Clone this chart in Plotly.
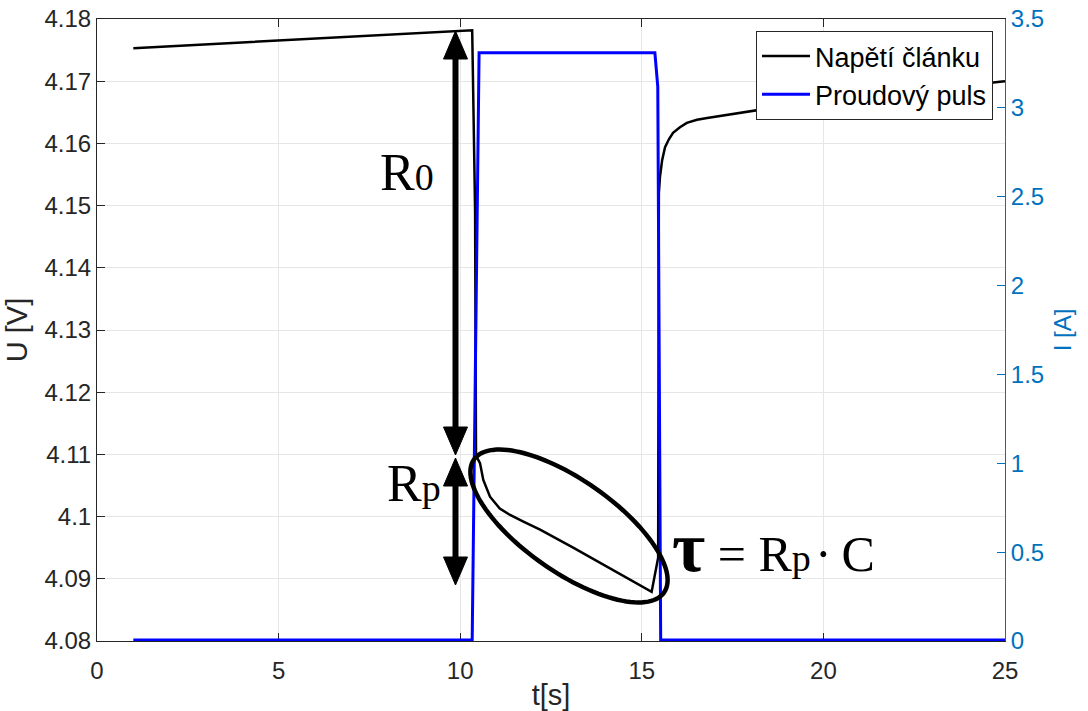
import math
import plotly.graph_objects as go

# Cell voltage response to a current pulse
t_voltage = [1.0, 5.0, 10.33, 10.41, 10.435, 10.49, 10.545, 10.636, 10.82,
             11.09, 11.36, 11.74, 12.20, 13.11, 14.03, 15.27, 15.45,
             15.47, 15.50, 15.56, 15.64, 15.75, 15.86, 16.05, 16.24, 16.52,
             16.80, 17.70, 18.80, 24.86, 25.0]
u_voltage = [4.1753, 4.1765, 4.1782, 4.1493, 4.1099, 4.1092, 4.1086, 4.1059,
             4.1032, 4.1013, 4.1003, 4.0992, 4.0979, 4.0950, 4.0920, 4.0879,
             4.0934, 4.1520, 4.1546, 4.1573, 4.1594, 4.1607, 4.1617, 4.1626,
             4.1633, 4.1638, 4.1641, 4.1649, 4.1659, 4.1699, 4.1700]

t_current = [1.0, 10.33, 10.52, 15.36, 15.44, 15.52, 25.0]
i_current = [0.005, 0.005, 3.31, 3.31, 3.12, 0.005, 0.005]

x_ticks = [0, 5, 10, 15, 20, 25]
u_ticks = [4.08, 4.09, 4.10, 4.11, 4.12, 4.13, 4.14, 4.15, 4.16, 4.17, 4.18]
u_tick_text = ["4.08", "4.09", "4.1", "4.11", "4.12", "4.13", "4.14", "4.15",
               "4.16", "4.17", "4.18"]
i_ticks = [0, 0.5, 1, 1.5, 2, 2.5, 3, 3.5]
i_tick_text = ["0", "0.5", "1", "1.5", "2", "2.5", "3", "3.5"]

W, H = 1088, 711
ML, MR, MT, MB = 97, 83, 19, 70
X_RANGE = [0, 25]
U_RANGE = [4.08, 4.18]
I_RANGE = [0, 3.5]

AX_COLOR = "#262626"
I_COLOR = "#0072BD"
GRID = "#e6e6e6"
SANS = "Liberation Sans, Arial, Helvetica, sans-serif"
SERIF = "Liberation Serif, Times New Roman, serif"
TICK_SIZE = 24

# pixel -> data helpers for the hand-drawn style markup
PX0, PX1 = ML, W - MR
PY0, PY1 = MT, H - MB


def dx(px):
    return X_RANGE[0] + (px - PX0) / (PX1 - PX0) * (X_RANGE[1] - X_RANGE[0])


def dy(py):
    return U_RANGE[1] - (py - PY0) / (PY1 - PY0) * (U_RANGE[1] - U_RANGE[0])


fig = go.Figure()
fig.add_trace(go.Scatter(
    x=t_voltage, y=u_voltage, mode="lines", name="Napětí článku",
    line=dict(color="black", width=2.5), yaxis="y"))
fig.add_trace(go.Scatter(
    x=t_current, y=i_current, mode="lines", name="Proudový puls",
    line=dict(color="#0000FF", width=3), yaxis="y2"))

shapes = []


# double-headed arrows
def arrow(px, top, bottom, head_h=28, head_w=12, width=6):
    out = [dict(type="line", xref="x", yref="y",
                x0=dx(px), x1=dx(px), y0=dy(top + head_h - 2), y1=dy(bottom - head_h + 2),
                line=dict(color="black", width=width))]
    up = "M{},{} L{},{} L{},{} Z".format(
        dx(px), dy(top), dx(px - head_w), dy(top + head_h), dx(px + head_w), dy(top + head_h))
    down = "M{},{} L{},{} L{},{} Z".format(
        dx(px), dy(bottom), dx(px - head_w), dy(bottom - head_h), dx(px + head_w), dy(bottom - head_h))
    for p in (up, down):
        out.append(dict(type="path", xref="x", yref="y", path=p,
                        fillcolor="black", line=dict(color="black", width=1)))
    return out


shapes += arrow(455.5, 31, 455)
shapes += arrow(455.5, 458, 585)

# tilted ellipse around the polarisation part
cx, cy, a, b, phi = 569, 526, 116, 46, math.radians(35)
pts = []
for k in range(121):
    th = 2 * math.pi * k / 120
    px = cx + a * math.cos(th) * math.cos(phi) - b * math.sin(th) * math.sin(phi)
    py = cy + a * math.cos(th) * math.sin(phi) + b * math.sin(th) * math.cos(phi)
    pts.append((dx(px), dy(py)))
path = "M" + " L".join("{},{}".format(x, y) for x, y in pts) + " Z"
shapes.append(dict(type="path", xref="x", yref="y", path=path,
                   line=dict(color="black", width=4.5)))


def small(s, size=38):
    return "<span style='font-size:{}px'>{}</span>".format(size, s)


annotations = [
    dict(x=dx(407), y=dy(172), xref="x", yref="y", text="R" + small("0"),
         showarrow=False, font=dict(family=SERIF, size=52, color="black")),
    dict(x=dx(414), y=dy(483), xref="x", yref="y", text="R" + small("p"),
         showarrow=False, font=dict(family=SERIF, size=52, color="black")),
    dict(x=dx(773), y=dy(547), xref="x", yref="y",
         text="<span style='font-size:72px'><b>τ</b></span> = R" + small("p")
              + "\u200a·\u2009C",
         showarrow=False, font=dict(family=SERIF, size=50, color="black")),
]

fig.update_layout(
    width=W, height=H,
    margin=dict(l=ML, r=MR, t=MT, b=MB, autoexpand=False),
    paper_bgcolor="white", plot_bgcolor="white",
    font=dict(family=SANS, size=TICK_SIZE, color=AX_COLOR),
    xaxis=dict(range=X_RANGE, tickvals=x_ticks, ticks="inside", ticklen=8,
               tickcolor=AX_COLOR, showline=True, linecolor=AX_COLOR, linewidth=1,
               mirror="ticks", showgrid=True, gridcolor=GRID, zeroline=False,
               title=dict(text="t[s]", standoff=10), automargin=False,
               ticklabelstandoff=8,
               layer="below traces", tickfont=dict(size=TICK_SIZE)),
    yaxis=dict(range=U_RANGE, tickvals=u_ticks, ticktext=u_tick_text,
               ticks="inside", ticklen=8, tickcolor=AX_COLOR, showline=True,
               linecolor=AX_COLOR, linewidth=1, showgrid=True, gridcolor=GRID,
               zeroline=False, title=dict(text="U [V]", standoff=8),
               automargin=False, layer="below traces", tickfont=dict(size=TICK_SIZE)),
    yaxis2=dict(range=I_RANGE, tickvals=i_ticks, ticktext=i_tick_text,
                overlaying="y", side="right", ticks="inside", ticklen=8,
                tickcolor=I_COLOR, showline=True, linecolor=I_COLOR, linewidth=1,
                showgrid=False, zeroline=False,
                tickfont=dict(size=TICK_SIZE, color=I_COLOR),
                title=dict(text="I [A]", standoff=11, font=dict(color=I_COLOR, size=TICK_SIZE)),
                automargin=False, layer="below traces"),
    legend=dict(x=(993 - PX0) / (PX1 - PX0), y=(PY1 - 31) / (PY1 - PY0),
                xanchor="right", yanchor="top", bgcolor="white",
                bordercolor=AX_COLOR, borderwidth=1,
                font=dict(family=SANS, size=27, color="black"),
                tracegroupgap=0, itemwidth=48),
    shapes=shapes,
    annotations=annotations,
    showlegend=True,
)

fig.write_html("out.html")
